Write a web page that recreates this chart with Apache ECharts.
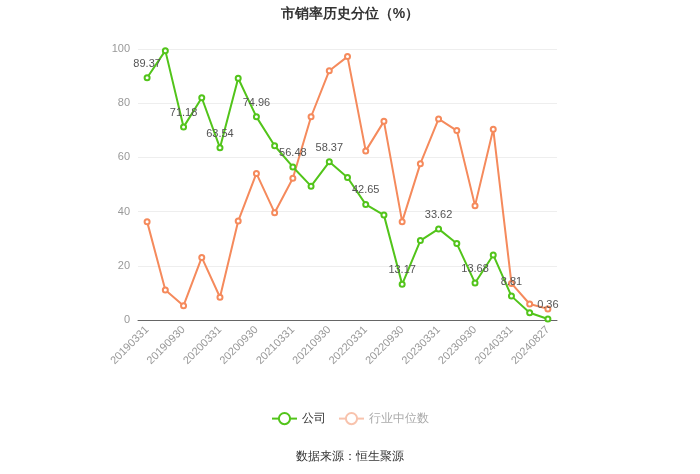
<!DOCTYPE html>
<html><head><meta charset="utf-8">
<script src="https://cdn.jsdelivr.net/npm/echarts@6/dist/echarts.min.js"></script>
<style>html,body{margin:0;padding:0;background:#fff}#c{width:700px;height:474px}</style>
</head><body><div id="c"></div>
<script>
const categories = ['20190331','20190630','20190930','20191231','20200331','20200630','20200930','20201231','20210331','20210630','20210930','20211231','20220331','20220630','20220930','20221231','20230331','20230630','20230930','20231231','20240331','20240630','20240827'];
const companyValues = [89.37,99.4,71.18,82.0,63.54,89.2,74.96,64.3,56.48,49.4,58.37,52.6,42.65,38.7,13.17,29.3,33.62,28.2,13.68,24.0,8.81,2.7,0.36];
const industryValues = [36.3,11.1,5.3,23.1,8.4,36.5,54.1,39.6,52.3,75.0,92.0,97.2,62.4,73.3,36.3,57.7,74.2,69.9,42.2,70.4,13.5,5.9,4.1];
const yTicks = [0,20,40,60,80,100];
const green = '#52c41a', orange = '#f58a5c';
const chart = echarts.init(document.getElementById('c'));
chart.setOption({
  animation:false,
  title:{text:'市销率历史分位（%）',left:'center',top:2,textStyle:{fontSize:14,fontWeight:'bold',color:'#333'}},
  grid:{left:138,right:143,top:49,bottom:154},
  legend:{top:407,left:'center',itemWidth:25,itemHeight:14,itemGap:12,
    textStyle:{fontSize:12,color:'#333'},
    data:[{name:'公司'},{name:'行业中位数',itemStyle:{color:'#f8c3ad',borderColor:'#f8c3ad'},lineStyle:{color:'#f8c3ad'},textStyle:{color:'#aaa'}}]},
  graphic:[{type:'text',left:'center',top:451,style:{text:'数据来源：恒生聚源',fontSize:12,fill:'#333'}}],
  xAxis:{type:'category',data:categories,boundaryGap:true,
    axisLine:{lineStyle:{color:'#666'}},axisTick:{alignWithLabel:true,interval:1,lineStyle:{color:'#666'}},
    axisLabel:{interval:1,rotate:45,color:'#999',fontSize:11}},
  yAxis:{type:'value',min:yTicks[0],max:yTicks[yTicks.length-1],interval:20,
    axisLine:{show:false},axisTick:{show:false},axisLabel:{color:'#999',fontSize:11},
    splitLine:{lineStyle:{color:'#eee'}}},
  series:[
    {name:'公司',type:'line',data:companyValues.map((v,i)=>({value:v,label:{show:i%2===0}})),
     symbol:'emptyCircle',symbolSize:5,lineStyle:{color:green,width:2},itemStyle:{color:green},
     label:{position:'top',color:'#555',fontSize:11},z:3},
    {name:'行业中位数',type:'line',data:industryValues,
     symbol:'emptyCircle',symbolSize:5,lineStyle:{color:orange,width:2},itemStyle:{color:orange},z:2}
  ]
});
</script></body></html>
